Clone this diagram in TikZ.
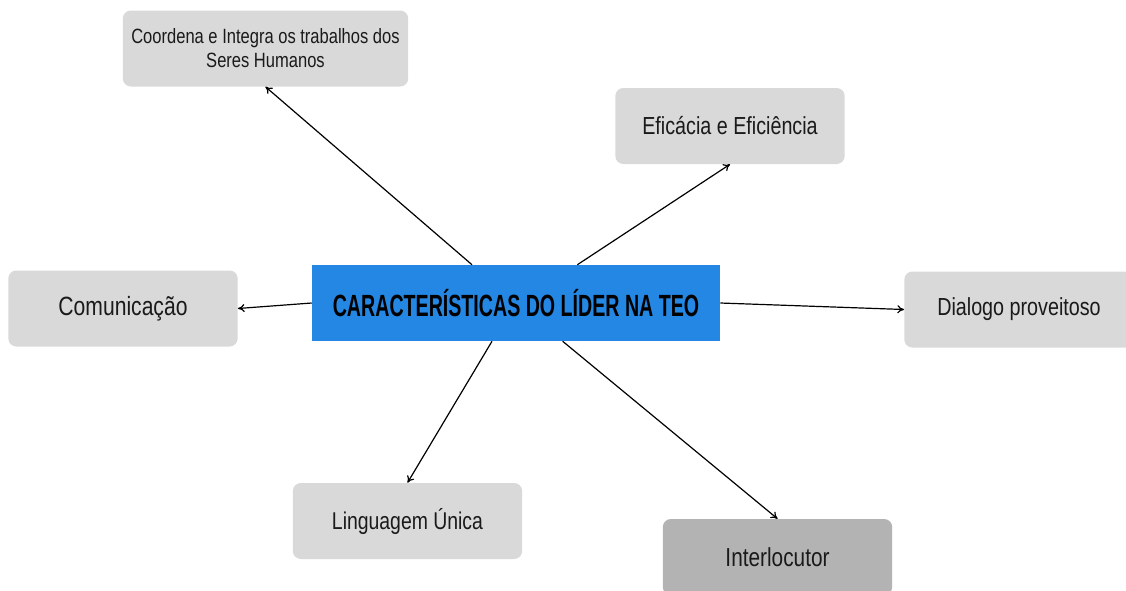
\documentclass[tikz,border=0pt]{standalone}
\usepackage{fontspec}
\setmainfont[FakeStretch=0.8]{Liberation Sans}
\newfontfamily\titlefont[FakeStretch=0.64]{Liberation Sans}
\usetikzlibrary{arrows.meta}
\definecolor{boxgray}{HTML}{D9D9D9}
\definecolor{darkgray}{HTML}{B3B3B3}
\definecolor{lidblue}{HTML}{2387E3}
\definecolor{ink}{HTML}{1A1A1A}

\begin{document}
\begin{tikzpicture}[x=0.75pt,y=-0.75pt]
\tikzstyle{item}=[rectangle, rounded corners=6pt, fill=boxgray, text=ink, minimum width=172pt, minimum height=57pt, align=center, inner sep=0pt]
\tikzstyle{core}=[rectangle, fill=lidblue, minimum width=306pt, minimum height=57pt, inner sep=0pt, font=\titlefont\bfseries\fontsize{23}{26}\selectfont]
\tikzstyle{link}=[-{To[length=5pt,width=6pt]}, line width=0.9pt, black]
\useasboundingbox (0,0) rectangle (1126,590);

\node[core] (lider) at (516,303) {CARACTERÍSTICAS DO LÍDER NA TEO};

\node[item, minimum width=214pt, font=\fontsize{15.5}{18}\selectfont] (coord) at (265.5,48.5) {Coordena e Integra os trabalhos dos\\Seres Humanos};
\node[item, font=\fontsize{18.5}{22}\selectfont] (efic) at (730,126) {Eficácia e Eficiência};
\node[item, font=\fontsize{19.8}{22}\selectfont] (comun) at (123,308.5) {Comunicação};
\node[item, font=\fontsize{18.5}{22}\selectfont] (dialog) at (1019,309.5) {Dialogo proveitoso};
\node[item, font=\fontsize{18.2}{22}\selectfont] (ling) at (407.5,521) {Linguagem Única};
\node[item, fill=darkgray, font=\fontsize{19.5}{22}\selectfont] (inter) at (777.5,557) {Interlocutor};

\draw[link] ([xshift=-33pt]lider.north) -- (coord.south);
\draw[link] ([xshift=46pt]lider.north) -- (efic.south);
\draw[link] (lider.west) -- (comun.east);
\draw[link] (lider.east) -- (dialog.west);
\draw[link] ([xshift=-18pt]lider.south) -- (ling.north);
\draw[link] ([xshift=35pt]lider.south) -- (inter.north);
\end{tikzpicture}
\end{document}
